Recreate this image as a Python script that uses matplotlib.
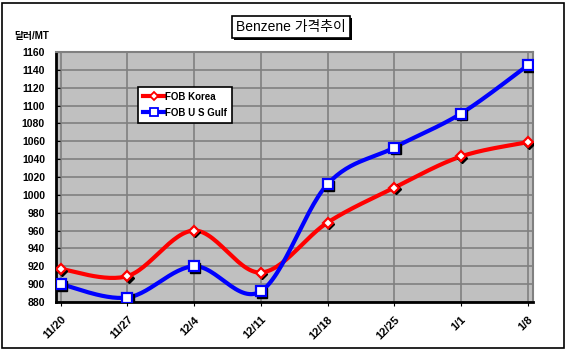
import numpy as np
import matplotlib
matplotlib.use("Agg")
import matplotlib.pyplot as plt
import matplotlib.patheffects as pe
from matplotlib.transforms import offset_copy
from matplotlib.patches import Rectangle

# data
dates = ["11/20", "11/27", "12/4", "12/11", "12/18", "12/25", "1/1", "1/8"]
korea = [917, 909, 960, 913, 969, 1008, 1043, 1059]
usgulf = [900, 885, 920, 892, 1012, 1053, 1091, 1145]

plt.rcParams['font.family'] = ['Liberation Sans', 'Noto Sans CJK KR', 'DejaVu Sans']


def smooth(xs, ys, n=30):
    # excel-like smoothed line: bezier segments with catmull-rom control points
    pts = np.column_stack([xs, ys]).astype(float)
    p = np.vstack([pts[0], pts, pts[-1]])
    out = []
    t = np.linspace(0, 1, n)[:, None]
    for i in range(1, len(p) - 2):
        p0, p1, p2, p3 = p[i - 1], p[i], p[i + 1], p[i + 2]
        c1 = p1 + (p2 - p0) / 6
        c2 = p2 - (p3 - p1) / 6
        seg = ((1 - t) ** 3) * p1 + 3 * ((1 - t) ** 2) * t * c1 + 3 * (1 - t) * t ** 2 * c2 + t ** 3 * p2
        out.append(seg)
    seg = np.vstack(out)
    return seg[:, 0], seg[:, 1]


fig = plt.figure(figsize=(5.66, 3.52), dpi=100)
ax = fig.add_axes([56 / 566, 1 - 302 / 352, 477 / 566, 250 / 352])
ax.set_facecolor('#c0c0c0')

x = np.arange(len(dates))
shadow = offset_copy(ax.transData, fig=fig, x=1, y=-1.2, units='points')

for vals, color, mk, ms, name in [(korea, '#ff0000', 'D', 5, 'FOB Korea'),
                                  (usgulf, '#0000ff', 's', 6.5, 'FOB U S Gulf')]:
    sx, sy = smooth(x, vals)
    ax.plot(sx, sy, color=color, lw=3, solid_capstyle='round', zorder=3)
    ax.plot(x, vals, ls='none', marker=mk, ms=ms, color='k', transform=shadow, zorder=3.5)
    ax.plot(x, vals, ls='none', marker=mk, ms=ms, mfc='white', mec=color, mew=1.6, zorder=4)
    ax.plot([], [], color=color, lw=3, marker=mk, ms=ms - 1, mfc='white', mec=color, mew=1.3, label=name)

ax.set_xlim(-0.07, 7.08)
ax.set_ylim(880, 1160)
ax.set_yticks(np.arange(880, 1161, 20))
ax.set_xticks(x)
ax.set_xticklabels(dates, rotation=45, ha='right', rotation_mode='anchor', fontweight='bold', fontsize=8)
for lab in ax.get_yticklabels():
    lab.set_fontweight('bold')
    lab.set_fontsize(7.5)
ax.tick_params(axis='y', direction='in', length=3, pad=8)
ax.tick_params(axis='x', direction='out', length=3, pad=6)
ax.grid(True, color='#808080', lw=1.2)
ax.set_axisbelow(True)
for s in ['left', 'bottom']:
    ax.spines[s].set_linewidth(2)
    ax.spines[s].set_color('black')
for s in ['top', 'right']:
    ax.spines[s].set_linewidth(1.5)
    ax.spines[s].set_color('#808080')

leg = ax.legend(loc='upper left', bbox_to_anchor=(0.172, 0.86), frameon=True, fancybox=False,
                prop={'weight': 'bold', 'size': 7}, handlelength=2.2, handletextpad=0.1,
                labelspacing=0.6, borderpad=0.5, borderaxespad=0)
leg.get_frame().set_edgecolor('black')
leg.get_frame().set_linewidth(1.2)
leg.get_frame().set_facecolor('white')
leg.get_frame().set_alpha(1)

title = fig.text(291 / 566, 1 - 27 / 352, "Benzene 가격추이", ha='center', va='center', fontsize=10,
                 bbox=dict(boxstyle='square,pad=0.3', fc='white', ec='black', lw=1.2))
title.get_bbox_patch().set_path_effects([pe.withSimplePatchShadow(offset=(1.5, -1.5), shadow_rgbFace='black', alpha=1)])

fig.text(14 / 566, 1 - 36 / 352, "달러/MT", ha='left', va='center', fontsize=7, fontweight='bold')

fig.patches.append(Rectangle((2 / 566, 4 / 352), 562 / 566, 345 / 352, transform=fig.transFigure,
                             fill=False, ec='black', lw=1.2))

fig.savefig('out.png', dpi=100)
